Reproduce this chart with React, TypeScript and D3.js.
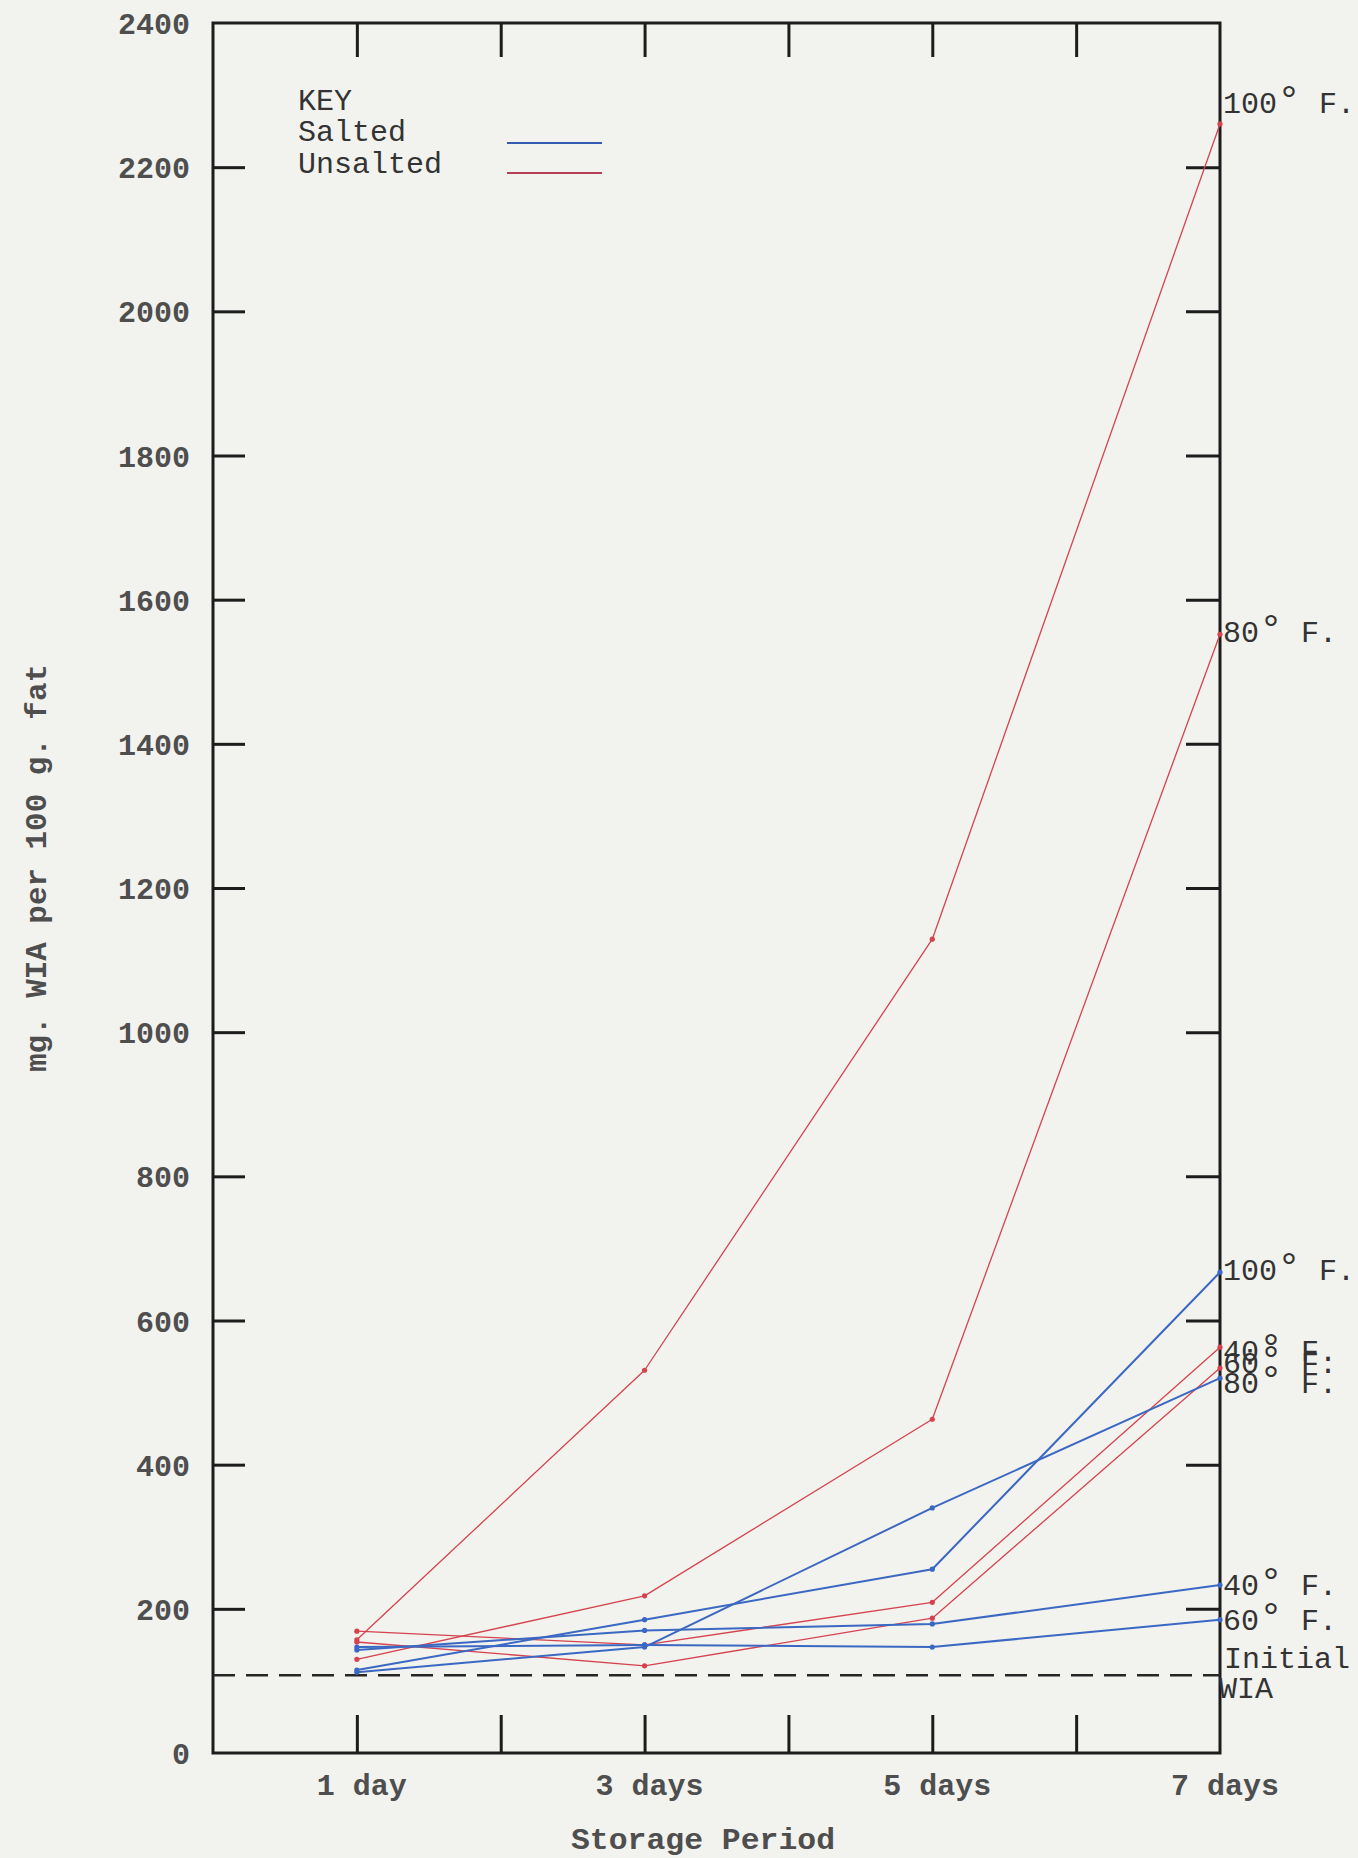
import React, { useRef, useEffect } from 'react';
import * as d3 from 'd3';

// storage days and their labels
const days = [1, 3, 5, 7];
const dayLabels = ['1 day', '3 days', '5 days', '7 days'];
const minorDays = [1, 2, 3, 4, 5, 6];
const yTicks = [0, 200, 400, 600, 800, 1000, 1200, 1400, 1600, 1800, 2000, 2200, 2400];

// mg. WIA per 100 g. fat
const unsalted100 = [157, 531, 1129, 2260];
const unsalted80 = [130, 218, 463, 1552];
const unsalted60 = [154, 121, 187, 534];
const unsalted40 = [169, 150, 209, 563];
const salted100 = [115, 185, 255, 667];
const salted80 = [112, 147, 340, 520];
const salted60 = [147, 150, 147, 185];
const salted40 = [143, 170, 179, 233];
const initialWIA = 108;

const W = 1358;
const H = 1858;
const RED = '#d5434f';
const BLUE = '#3b68c2';
const FONT = "'Liberation Mono', 'Courier New', monospace";

const series = [
  { key: 'u100', values: unsalted100, salted: false, label: '100', dy: -11 },
  { key: 'u80', values: unsalted80, salted: false, label: '80', dy: 8 },
  { key: 'u40', values: unsalted40, salted: false, label: '40', dy: 14 },
  { key: 'u60', values: unsalted60, salted: false, label: '60', dy: 5 },
  { key: 's100', values: salted100, salted: true, label: '100', dy: 8 },
  { key: 's80', values: salted80, salted: true, label: '80', dy: 15 },
  { key: 's40', values: salted40, salted: true, label: '40', dy: 10 },
  { key: 's60', values: salted60, salted: true, label: '60', dy: 10 },
];

const App: React.FC = () => {
  const svgRef = useRef<SVGSVGElement>(null);

  useEffect(() => {
    if (!svgRef.current) return;
    const svg = d3.select(svgRef.current);
    svg.selectAll('*').remove();

    const x = d3.scaleLinear().domain([0, 7]).range([213, 1220]);
    const y = d3.scaleLinear().domain([0, 2400]).range([1753, 23]);
    const [x0, x1] = x.range();
    const [y0, y1] = y.range();

    // paper
    svg.append('rect').attr('width', W).attr('height', H).attr('fill', '#f2f2ee');

    // inward ticks on all four sides
    const styleAxis = (g: any) => {
      g.select('.domain').remove();
      g.selectAll('line').attr('stroke', '#1c1c1c').attr('stroke-width', 3);
    };
    svg.append('g').attr('transform', `translate(${x0},0)`)
      .call(d3.axisLeft(y).tickValues(yTicks.slice(1, -1)).tickSize(-32).tickFormat(() => ''))
      .call(styleAxis);
    svg.append('g').attr('transform', `translate(${x1},0)`)
      .call(d3.axisRight(y).tickValues(yTicks.slice(1, -1)).tickSize(-34).tickFormat(() => ''))
      .call(styleAxis);
    svg.append('g').attr('transform', `translate(0,${y1})`)
      .call(d3.axisTop(x).tickValues(minorDays).tickSize(-34).tickFormat(() => ''))
      .call(styleAxis);
    svg.append('g').attr('transform', `translate(0,${y0})`)
      .call(d3.axisBottom(x).tickValues(minorDays).tickSize(-38).tickFormat(() => ''))
      .call(styleAxis);

    // frame
    svg.append('rect')
      .attr('x', x0).attr('y', y1)
      .attr('width', x1 - x0).attr('height', y0 - y1)
      .attr('fill', 'none').attr('stroke', '#1c1c1c').attr('stroke-width', 3);

    // y tick labels
    svg.append('g').selectAll('text').data(yTicks).enter().append('text')
      .attr('x', 190)
      .attr('y', (d) => y(d) + 11)
      .attr('text-anchor', 'end')
      .style('font-family', FONT).style('font-weight', 'bold')
      .style('font-size', '30px').attr('fill', '#4e4e4e')
      .text((d) => d);

    // x labels
    svg.append('g').selectAll('text').data(days).enter().append('text')
      .attr('x', (d) => x(d) + 5)
      .attr('y', 1795)
      .attr('text-anchor', 'middle')
      .style('font-family', FONT).style('font-weight', 'bold')
      .style('font-size', '30px').attr('fill', '#4e4e4e')
      .text((d, i) => dayLabels[i]);

    svg.append('text')
      .attr('x', 703).attr('y', 1849)
      .attr('text-anchor', 'middle')
      .attr('textLength', 264).attr('lengthAdjust', 'spacingAndGlyphs')
      .style('font-family', FONT).style('font-weight', 'bold')
      .style('font-size', '30px').attr('fill', '#4e4e4e')
      .text('Storage Period');

    svg.append('text')
      .attr('transform', 'translate(46,868) rotate(-90)')
      .attr('text-anchor', 'middle')
      .attr('textLength', 408).attr('lengthAdjust', 'spacingAndGlyphs')
      .style('font-family', FONT).style('font-weight', 'bold')
      .style('font-size', '30px').attr('fill', '#4e4e4e')
      .text('mg. WIA per 100 g. fat');

    // initial WIA dashed line
    svg.append('line')
      .attr('x1', x0).attr('x2', x1)
      .attr('y1', y(initialWIA)).attr('y2', y(initialWIA))
      .attr('stroke', '#262626').attr('stroke-width', 2.5)
      .attr('stroke-dasharray', '22,11');

    // series lines
    const line = d3.line<number>()
      .x((d, i) => x(days[i]))
      .y((d) => y(d));

    const lines = svg.append('g');
    series.forEach((s) => {
      const color = s.salted ? BLUE : RED;
      lines.append('path')
        .datum(s.values)
        .attr('d', line)
        .attr('fill', 'none')
        .attr('stroke', color)
        .attr('stroke-width', s.salted ? 2 : 1.3)
        .attr('stroke-linejoin', 'round');
      lines.selectAll(`.pt-${s.key}`).data(s.values).enter().append('circle')
        .attr('class', `pt-${s.key}`)
        .attr('cx', (d, i) => x(days[i]))
        .attr('cy', (d) => y(d))
        .attr('r', 2.6)
        .attr('fill', color);
    });

    // end labels
    const endLabels = svg.append('g')
      .style('font-family', FONT).style('font-size', '30px').attr('fill', '#333');
    series.forEach((s) => {
      const t = endLabels.append('text')
        .attr('x', x1 + 3)
        .attr('y', y(s.values[s.values.length - 1]) + s.dy);
      t.append('tspan').text(s.label);
      t.append('tspan').style('font-size', '40px').text('°');
      t.append('tspan').text(' F.');
    });
    endLabels.append('text')
      .attr('x', x1 + 4).attr('y', y(initialWIA) - 7)
      .text('Initial');
    endLabels.append('text')
      .attr('x', x1 - 1).attr('y', y(initialWIA) + 23)
      .text('WIA');

    // key
    const key = svg.append('g')
      .style('font-family', FONT).style('font-size', '30px').attr('fill', '#333');
    key.append('text').attr('x', 298).attr('y', 110).text('KEY');
    key.append('text').attr('x', 298).attr('y', 141).text('Salted');
    key.append('text').attr('x', 298).attr('y', 173).text('Unsalted');
    key.append('line').attr('x1', 507).attr('x2', 602).attr('y1', 143).attr('y2', 143)
      .attr('stroke', '#3459b0').attr('stroke-width', 2.2);
    key.append('line').attr('x1', 507).attr('x2', 602).attr('y1', 173).attr('y2', 173)
      .attr('stroke', '#b43e55').attr('stroke-width', 2.2);
  }, []);

  return (
    <div style={{ position: 'absolute', left: 0, top: 0 }}>
      <svg ref={svgRef} width={W} height={H} />
    </div>
  );
};

export default App;
